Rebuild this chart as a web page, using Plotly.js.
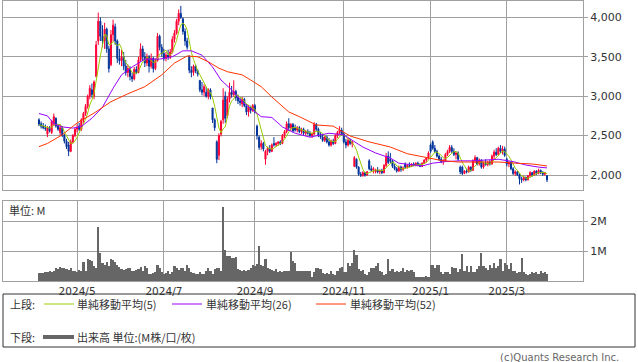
<!DOCTYPE html>
<html>
<head>
<meta charset="utf-8">
<script src="https://cdn.plot.ly/plotly-3.0.1.min.js"></script>
<style>
html,body{margin:0;padding:0;background:#fff;}
#chart{width:638px;height:362px;}
</style>
</head>
<body>
<div id="chart"></div>
<script>
// ---- data (trading-day index based) ----
const tickDays = [18, 59, 102, 144, 185, 221];
const tickLabels = ["2024/5", "2024/7", "2024/9", "2024/11", "2025/1", "2025/3"];

const opens = [
2700,2650,2620,2600,2520,2600,2540,2650,2720,2620,
2540,2600,2500,2430,2380,2300,2420,2500,2580,2620,
2580,2700,2780,2870,3000,3080,3000,3250,3700,3950,
3760,3700,3850,3600,3400,3780,3880,3700,3480,3450,
3500,3380,3300,3350,3250,3220,3340,3300,3460,3600,
3500,3420,3500,3380,3480,3350,3450,3760,3620,3540,
3480,3520,3500,3560,3720,3800,3950,4050,3980,3820,
3700,3500,3330,3300,3380,3320,3200,3080,3050,3050,
3000,3080,2850,2700,2420,2250,2520,2700,3000,2750,
2960,3050,3020,3060,2980,2940,2900,2960,2880,2800,
2860,2820,2880,2620,2480,2360,2400,2200,2300,2340,
2300,2400,2380,2400,2420,2400,2500,2550,2650,2600,
2640,2600,2570,2600,2550,2580,2530,2550,2530,2500,
2520,2640,2580,2500,2480,2440,2480,2420,2380,2430,
2400,2500,2540,2570,2520,2420,2380,2440,2400,2110,
2200,2100,2010,1990,2030,2000,2180,2080,2060,2040,
2060,2040,2060,2030,2120,2240,2200,2180,2110,2080,
2050,2100,2070,2140,2100,2120,2110,2140,2120,2150,
2130,2110,2150,2190,2220,2380,2420,2340,2300,2240,
2200,2170,2180,2260,2300,2350,2300,2260,2280,2100,
2100,2020,2050,2040,2100,2060,2180,2220,2140,2190,
2100,2150,2130,2160,2140,2240,2290,2260,2340,2300,
2330,2200,2140,2160,2080,2020,2040,2000,1950,1940,
1970,1940,1990,2030,2000,2050,2020,2060,2030,2010,1990];

const highs = [
2720,2680,2660,2640,2620,2620,2700,2780,2730,2650,
2640,2620,2520,2460,2420,2450,2520,2600,2640,2660,
2720,2800,2900,3020,3140,3160,3200,3700,4060,4000,
3900,3930,3870,3640,3840,3970,3920,3720,3600,3590,
3560,3460,3400,3380,3300,3370,3380,3500,3670,3640,
3560,3540,3520,3540,3500,3480,3800,3780,3660,3600,
3560,3590,3600,3760,3840,3980,4100,4145,4000,3860,
3740,3520,3380,3400,3400,3340,3200,3180,3150,3120,
3100,3100,2850,2720,2440,2530,2700,3100,3060,3000,
3170,3130,3200,3080,3020,2980,2990,2980,2900,2890,
2880,2900,2900,2640,2500,2440,2420,2320,2360,2380,
2400,2480,2420,2430,2440,2520,2570,2680,2720,2660,
2660,2640,2620,2620,2600,2600,2570,2580,2560,2540,
2670,2660,2600,2540,2520,2500,2500,2470,2450,2460,
2520,2560,2620,2600,2540,2460,2470,2460,2440,2240,
2210,2110,2040,2050,2040,2050,2200,2120,2100,2080,
2100,2070,2080,2140,2280,2300,2280,2190,2140,2100,
2120,2120,2110,2160,2140,2160,2150,2160,2160,2170,
2150,2160,2200,2230,2300,2400,2440,2380,2320,2260,
2230,2200,2280,2320,2380,2380,2340,2300,2300,2120,
2120,2060,2080,2120,2110,2200,2250,2230,2210,2200,
2170,2200,2180,2190,2260,2320,2340,2360,2380,2370,
2360,2220,2180,2170,2100,2060,2050,2020,1980,1990,
1980,2000,2050,2040,2060,2060,2080,2070,2050,2040,2000];

const lows = [
2620,2590,2580,2560,2480,2540,2520,2620,2600,2560,
2500,2480,2400,2330,2240,2290,2400,2480,2540,2560,
2560,2660,2750,2840,2960,2980,2960,3240,3650,3700,
3620,3600,3550,3300,3380,3700,3650,3420,3400,3380,
3330,3260,3240,3200,3180,3200,3280,3290,3440,3450,
3370,3380,3300,3350,3300,3330,3440,3580,3500,3450,
3440,3460,3470,3540,3680,3780,3900,3980,3780,3640,
3590,3290,3240,3260,3290,3250,3050,3010,3000,2980,
2960,2960,2660,2560,2150,2190,2490,2650,2660,2720,
2920,2980,2990,2940,2900,2880,2860,2860,2760,2740,
2780,2800,2780,2450,2320,2320,2300,2130,2250,2280,
2290,2360,2360,2370,2380,2390,2470,2530,2560,2560,
2540,2550,2540,2530,2520,2500,2500,2510,2480,2470,
2510,2560,2480,2460,2420,2420,2400,2360,2360,2380,
2390,2470,2520,2500,2400,2340,2360,2380,2350,2100,
2080,1990,1975,1980,1980,1990,2060,2040,2020,2020,
2020,2010,2010,2020,2100,2140,2150,2090,2060,2030,
2040,2040,2050,2080,2080,2100,2100,2110,2110,2110,
2100,2100,2140,2160,2200,2280,2320,2280,2220,2180,
2150,2130,2170,2240,2280,2280,2240,2200,2180,2010,
2000,2010,2020,2030,2040,2050,2150,2120,2120,2080,
2080,2120,2110,2120,2130,2200,2240,2250,2280,2260,
2230,2110,2100,2060,2000,1990,1990,1880,1900,1920,
1920,1930,1970,1980,1990,2000,2010,2010,1990,1990,1910];

const closes = [
2640,2620,2600,2590,2600,2560,2680,2740,2620,2580,
2600,2500,2430,2360,2300,2420,2500,2580,2600,2580,
2700,2780,2870,3000,3100,3020,3180,3650,3950,3760,
3700,3850,3600,3350,3780,3900,3700,3480,3450,3500,
3380,3300,3350,3250,3220,3340,3300,3460,3600,3500,
3420,3500,3380,3480,3350,3450,3760,3620,3540,3480,
3520,3500,3560,3720,3800,3950,4050,4000,3820,3700,
3620,3330,3300,3380,3320,3280,3080,3050,3120,3000,
3080,2990,2700,2600,2200,2500,2680,2950,2720,2960,
3050,3020,3060,2980,2940,2920,2960,2880,2800,2860,
2820,2880,2800,2500,2350,2400,2330,2300,2340,2300,
2380,2380,2400,2420,2400,2500,2550,2650,2600,2640,
2560,2570,2600,2550,2580,2530,2550,2530,2500,2520,
2640,2580,2500,2480,2440,2480,2420,2380,2430,2400,
2500,2540,2570,2520,2420,2380,2440,2400,2420,2220,
2100,2010,2000,2030,2000,2040,2080,2060,2080,2060,
2040,2060,2030,2120,2240,2160,2180,2110,2080,2050,
2100,2070,2090,2100,2120,2110,2140,2120,2150,2130,
2110,2150,2190,2220,2280,2300,2340,2300,2240,2200,
2170,2180,2260,2300,2350,2300,2260,2280,2200,2040,
2020,2050,2040,2100,2060,2180,2220,2140,2190,2100,
2150,2130,2160,2140,2240,2290,2260,2340,2300,2330,
2250,2140,2160,2080,2020,2040,2000,1950,1940,1970,
1940,1990,2030,2000,2050,2020,2060,2030,2010,2030,1940];

// volume in millions of shares
const volumes = [
0.28,0.28,0.28,0.30,0.30,0.32,0.30,0.33,0.45,0.40,
0.47,0.42,0.44,0.40,0.38,0.42,0.35,0.35,0.30,0.38,
0.32,0.62,0.35,0.75,0.70,0.68,0.50,0.45,1.81,0.92,
0.60,0.53,0.62,0.50,0.72,0.70,0.65,0.55,0.48,0.40,
0.38,0.40,0.42,0.45,0.35,0.32,0.38,0.40,0.48,0.35,
0.50,0.42,0.25,0.22,0.28,0.30,0.55,0.42,0.30,0.25,
0.28,0.35,0.22,0.30,0.50,0.45,0.38,0.45,0.42,0.35,
0.55,0.42,0.30,0.28,0.22,0.25,0.30,0.22,0.22,0.35,
0.42,0.35,0.25,0.40,0.42,0.45,0.35,2.46,1.03,0.85,
0.82,0.78,0.78,0.80,0.40,0.38,0.35,0.38,0.32,0.36,
0.45,0.55,0.50,0.58,1.17,0.55,0.50,0.72,0.45,0.40,
0.38,0.35,0.40,0.30,0.32,0.30,0.35,0.33,0.33,0.98,
0.67,0.60,0.35,0.35,0.33,0.35,0.32,0.35,0.33,0.15,
0.30,0.42,0.42,0.40,0.28,0.25,0.28,0.25,0.35,0.25,
0.20,0.35,0.45,0.48,0.30,0.30,0.60,0.50,0.60,1.03,
0.87,0.40,0.35,0.38,0.25,0.20,0.30,0.45,0.42,0.50,
0.60,0.35,0.30,0.20,0.25,0.72,0.35,0.40,0.30,0.35,
0.30,0.35,0.42,0.30,0.38,0.35,0.38,0.30,0.15,0.15,
0.12,0.15,0.15,0.18,0.12,0.53,0.53,0.45,0.53,0.53,
0.30,0.25,0.30,0.30,0.25,0.48,0.45,0.45,0.30,0.40,
0.90,0.35,0.50,0.30,0.50,0.30,0.30,0.40,0.50,0.95,
0.50,0.45,0.38,0.55,0.45,0.60,0.42,0.50,0.75,0.35,
0.60,0.55,0.40,0.60,0.35,0.35,0.28,0.30,0.76,0.30,
0.22,0.20,0.25,0.30,0.28,0.30,0.22,0.32,0.28,0.30,0.25];

const ma26Days = [0,4,7,11,16,20,25,30,35,39,44,50,57,63,68,72,77,82,86,91,96,101,105,110,115,121,128,137,144,148,153,159,166,170,175,181,186,192,199,205,211,217,224,230,236,240];
const ma26Vals = [2780,2750,2650,2610,2595,2615,2720,2860,3100,3270,3370,3470,3470,3500,3575,3575,3520,3370,3205,3080,2930,2825,2740,2730,2610,2530,2480,2530,2510,2440,2355,2280,2215,2150,2130,2115,2150,2170,2180,2180,2190,2200,2170,2127,2100,2090];
const ma52Days = [0,4,11,18,26,34,42,50,58,64,70,75,80,85,89,96,100,105,110,115,118,123,131,139,147,156,166,174,182,190,198,210,217,225,233,240];
const ma52Vals = [2360,2400,2510,2660,2785,2930,3030,3120,3270,3420,3510,3500,3435,3355,3310,3270,3205,3120,2990,2865,2800,2740,2635,2620,2495,2420,2355,2270,2230,2185,2165,2160,2165,2150,2140,2115];

// ---- build ----
const days = closes.map((_, i) => i);
function sma(arr, n) {
  return arr.map((_, i) => {
    const s = Math.max(0, i - n + 1);
    let t = 0;
    for (let k = s; k <= i; k++) t += arr[k];
    return t / (i - s + 1);
  });
}
const ma5 = sma(closes, 5);

const RED = '#ff0033', BLUE = '#003399';
const GRID = '#a0a0a0';
const TXT = '#333333';
const FONT = 'DejaVu Sans, sans-serif';
const JP = 'Noto Sans CJK JP, sans-serif';

const traces = [
  {type:'candlestick', x:days, open:opens, high:highs, low:lows, close:closes,
   increasing:{line:{color:RED,width:1}, fillcolor:RED},
   decreasing:{line:{color:BLUE,width:1}, fillcolor:BLUE},
   whiskerwidth:0, hoverinfo:'skip', xaxis:'x', yaxis:'y'},
  {type:'scatter', mode:'lines', x:days, y:ma5, line:{color:'#99cc00',width:1}, xaxis:'x', yaxis:'y', hoverinfo:'skip'},
  {type:'scatter', mode:'lines', x:ma26Days, y:ma26Vals, line:{color:'#9900ff',width:1}, xaxis:'x', yaxis:'y', hoverinfo:'skip'},
  {type:'scatter', mode:'lines', x:ma52Days, y:ma52Vals, line:{color:'#ff3300',width:1}, xaxis:'x', yaxis:'y', hoverinfo:'skip'},
  {type:'bar', x:days, y:volumes, width:1, marker:{color:'#666666', line:{width:0}}, xaxis:'x2', yaxis:'y2', hoverinfo:'skip'}
];

// pixel -> paper helpers (plot area: x 3..583, y 1..281)
const px = v => (v - 3) / 580;
const py = v => (281 - v) / 280;

const xBase = {range:[-17,257], tickvals:tickDays, ticktext:tickLabels, showgrid:true, gridcolor:GRID, gridwidth:1,
  showline:true, mirror:true, linecolor:GRID, linewidth:1, zeroline:false, ticks:'', fixedrange:true};

function note(x, y, text, anchor, font) {
  return {xref:'paper', yref:'paper', x:px(x), y:py(y), xanchor:anchor, yanchor:'middle', showarrow:false,
          borderpad:0, text:text, font:font};
}
const jpFont = {family:JP, size:11, color:TXT};

const layout = {
  width:638, height:362,
  margin:{l:3, r:55, t:1, b:81},
  paper_bgcolor:'#ffffff', plot_bgcolor:'#ffffff',
  showlegend:false,
  xaxis: Object.assign({}, xBase, {anchor:'y', showticklabels:false, rangeslider:{visible:false}}),
  xaxis2: Object.assign({}, xBase, {anchor:'y2', showticklabels:true, tickfont:{family:FONT,size:10.5,color:TXT}}),
  yaxis: {domain:[0.325,1], range:[1810,4207], side:'right', tickvals:[2000,2500,3000,3500,4000], tickformat:',',
    ticks:'outside', ticklen:4, tickcolor:GRID, showgrid:true, gridcolor:GRID, showline:true, mirror:true, linecolor:GRID,
    zeroline:false, tickfont:{family:FONT,size:11,color:TXT}, fixedrange:true},
  yaxis2: {domain:[0,0.2857], range:[0,2.667], side:'right', tickvals:[1,2], ticktext:['1M','2M'],
    ticks:'outside', ticklen:4, tickcolor:GRID, showgrid:true, gridcolor:GRID, showline:true, mirror:true, linecolor:GRID,
    zeroline:false, tickfont:{family:FONT,size:11,color:TXT}, fixedrange:true},
  bargap:0,
  shapes:[
    {type:'rect', xref:'paper', yref:'paper', x0:px(3), x1:px(635), y0:py(347), y1:py(294), line:{color:'#333333',width:1}},
    {type:'line', xref:'paper', yref:'paper', x0:px(44), x1:px(74), y0:py(304), y1:py(304), line:{color:'#99cc00',width:1}},
    {type:'line', xref:'paper', yref:'paper', x0:px(172), x1:px(202), y0:py(304), y1:py(304), line:{color:'#9900ff',width:1}},
    {type:'line', xref:'paper', yref:'paper', x0:px(316), x1:px(346), y0:py(304), y1:py(304), line:{color:'#ff3300',width:1}},
    {type:'line', xref:'paper', yref:'paper', x0:px(43), x1:px(74), y0:py(337), y1:py(337), line:{color:'#666666',width:4}}
  ],
  annotations:[
    note(8, 210, '単位: M', 'left', jpFont),
    note(9, 304, '上段:', 'left', jpFont),
    note(76, 304, '単純移動平均(5)', 'left', jpFont),
    note(205, 304, '単純移動平均(26)', 'left', jpFont),
    note(349, 304, '単純移動平均(52)', 'left', jpFont),
    note(9, 337, '下段:', 'left', jpFont),
    note(76, 337, '出来高 単位:(M株/口/枚)', 'left', jpFont),
    note(620, 357, '(c)Quants Research Inc.', 'right', {family:FONT,size:10,color:'#666666'})
  ]
};

Plotly.newPlot('chart', traces, layout, {staticPlot:true, displayModeBar:false});
</script>
</body>
</html>
